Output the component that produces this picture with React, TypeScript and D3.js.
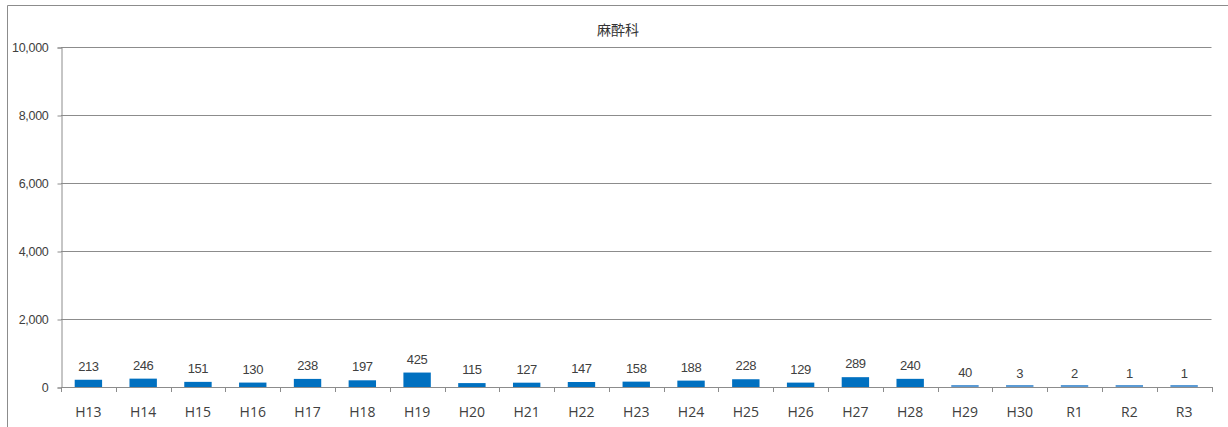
import React, { useEffect, useRef } from 'react';
import * as d3 from 'd3';

const title = '麻酔科';
const categories = ['H13', 'H14', 'H15', 'H16', 'H17', 'H18', 'H19', 'H20', 'H21', 'H22', 'H23', 'H24', 'H25', 'H26', 'H27', 'H28', 'H29', 'H30', 'R1', 'R2', 'R3'];
const values = [213, 246, 151, 130, 238, 197, 425, 115, 127, 147, 158, 188, 228, 129, 289, 240, 40, 3, 2, 1, 1];
// later years are drawn in the lighter blue
const lightFrom = 'H29';
const yTicks = [0, 2000, 4000, 6000, 8000, 10000];

const W = 1228;
const H = 427;

const App: React.FC = () => {
  const svgRef = useRef<SVGSVGElement>(null);

  useEffect(() => {
    if (!svgRef.current) return;
    const svg = d3.select(svgRef.current);
    svg.selectAll('*').remove();

    const margin = { top: 47, right: 16.5, bottom: 40, left: 61 };
    const x = d3.scaleBand<string>()
      .domain(categories)
      .range([margin.left, W - margin.right])
      .paddingInner(0.5)
      .paddingOuter(0.25);
    const y = d3.scaleLinear().domain([0, 10000]).range([H - margin.bottom, margin.top]);

    // outer frame (runs off the right/bottom edge)
    svg.append('path')
      .attr('d', `M7.5,${H + 2}V5.5H${W + 2}`)
      .attr('fill', 'none')
      .attr('stroke', '#8c8c8c')
      .attr('stroke-width', 1);

    svg.append('text')
      .attr('x', 618)
      .attr('y', 35)
      .attr('text-anchor', 'middle')
      .attr('font-family', '"Noto Sans CJK JP", sans-serif')
      .attr('font-size', 14)
      .attr('fill', '#333')
      .text(title);

    // gridlines
    svg.append('g')
      .selectAll('line')
      .data(yTicks.filter(t => t > 0))
      .join('line')
      .attr('x1', margin.left)
      .attr('x2', W - margin.right)
      .attr('y1', d => Math.round(y(d)) + 0.5)
      .attr('y2', d => Math.round(y(d)) + 0.5)
      .attr('stroke', '#8c8c8c');

    // y axis
    const yAxis = svg.append('g')
      .attr('transform', `translate(${margin.left + 0.5},0.5)`)
      .call(d3.axisLeft(y).tickValues(yTicks).tickSize(4).tickFormat(d3.format(',')));
    yAxis.select('.domain').attr('stroke', '#8c8c8c');
    yAxis.selectAll('.tick line').attr('stroke', '#8c8c8c');
    yAxis.selectAll('.tick text')
      .attr('x', -13)
      .attr('fill', '#404040')
      .attr('font-family', '"Liberation Sans", Arial, sans-serif')
      .attr('font-size', 12.5)
      .attr('letter-spacing', -0.3);

    // bars
    const lightIdx = categories.indexOf(lightFrom);
    svg.append('g')
      .selectAll('rect')
      .data(values)
      .join('rect')
      .attr('x', (d, i) => x(categories[i])!)
      .attr('width', x.bandwidth())
      .attr('y', d => y(0) - Math.max(y(0) - y(d), 2))
      .attr('height', d => Math.max(y(0) - y(d), 2))
      .attr('fill', (d, i) => (i >= lightIdx ? '#5b9bd5' : '#0070c0'));

    // data labels
    svg.append('g')
      .selectAll('text')
      .data(values)
      .join('text')
      .attr('x', (d, i) => x(categories[i])! + x.bandwidth() / 2)
      .attr('y', d => y(d) - 9)
      .attr('text-anchor', 'middle')
      .attr('font-family', '"Liberation Sans Narrow", "Liberation Sans", Arial, sans-serif')
      .attr('font-size', 13)
      .attr('letter-spacing', -0.4)
      .attr('fill', '#404040')
      .text(d => d3.format(',')(d));

    // x axis
    const x0 = margin.left;
    const step = x.step();
    const xAxis = svg.append('g');
    xAxis.append('line')
      .attr('x1', x0)
      .attr('x2', W - margin.right + 0.5)
      .attr('y1', Math.round(y(0)) + 0.5)
      .attr('y2', Math.round(y(0)) + 0.5)
      .attr('stroke', '#8c8c8c');
    xAxis.selectAll('line.tk')
      .data(d3.range(categories.length + 1))
      .join('line')
      .attr('class', 'tk')
      .attr('x1', i => Math.round(x0 + i * step) + 0.5)
      .attr('x2', i => Math.round(x0 + i * step) + 0.5)
      .attr('y1', Math.round(y(0)))
      .attr('y2', Math.round(y(0)) + 5)
      .attr('stroke', '#8c8c8c');
    xAxis.selectAll('text')
      .data(categories)
      .join('text')
      .attr('x', d => x(d)! + x.bandwidth() / 2)
      .attr('y', y(0) + 30)
      .attr('text-anchor', 'middle')
      .attr('font-family', '"Open Sans", "Noto Sans", sans-serif')
      .attr('font-size', 14)
      .attr('fill', '#404040')
      .text(d => d);
  }, []);

  return (
    <svg ref={svgRef} width={W} height={H} style={{ position: 'absolute', left: 0, top: 0, background: '#fff' }} />
  );
};

export default App;
